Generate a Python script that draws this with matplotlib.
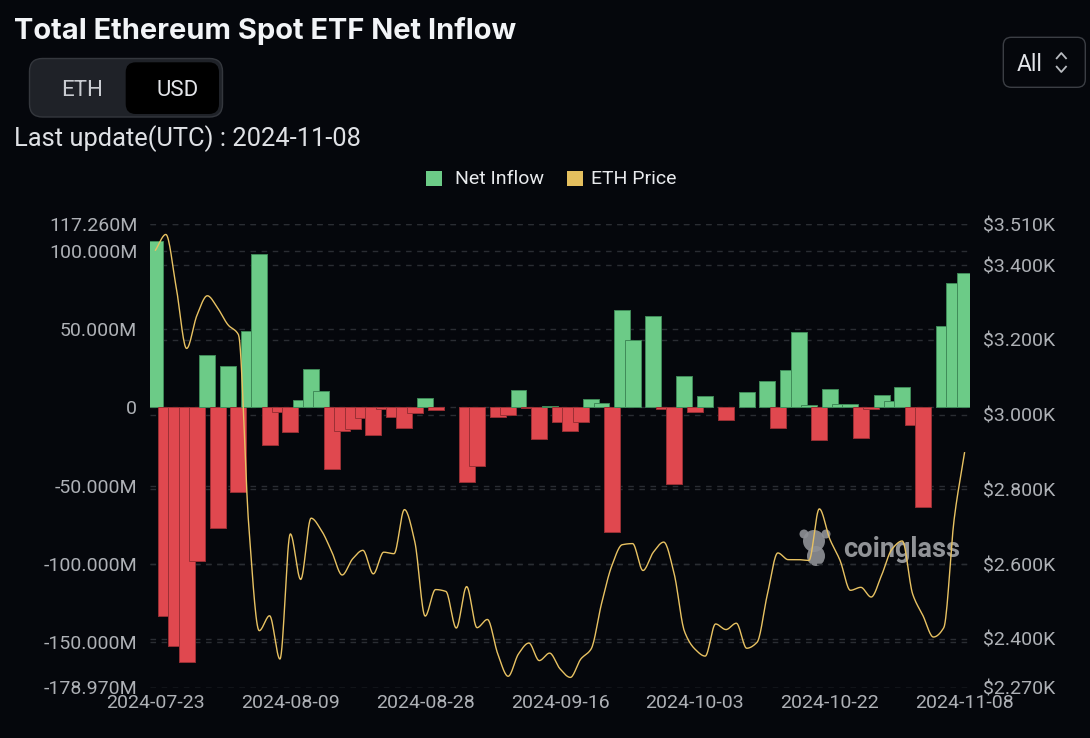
import numpy as np
import pandas as pd
import matplotlib
matplotlib.use('Agg')
import matplotlib.pyplot as plt
from matplotlib.patches import FancyBboxPatch, Rectangle, Ellipse, Circle

plt.rcParams['font.family'] = ['Roboto', 'DejaVu Sans']

# trading days 2024-07-23 .. 2024-11-08
dates = pd.bdate_range('2024-07-23', '2024-11-08').strftime('%Y-%m-%d').tolist()

# net inflow, million USD
inflow = [106.6, -133.3, -152.3, -162.7, -98.3, 33.7, -77.2, 26.7, -54.3, 48.8,
          98.4, -23.7, -3.0, -15.7, 4.9, 24.3, 10.8, -39.2, -15.1, -13.6,
          -6.5, -17.9, -0.8, -5.9, -13.3, -3.4, 5.8, -1.7, 0.0, 0.0,
          -47.4, -37.5, 0.0, -5.9, -5.1, 11.4, -0.5, -20.1, 1.2, -9.3,
          -15.1, -9.5, 5.1, 2.7, -79.3, 62.5, 43.2, 0.0, 58.7, -0.7,
          -48.6, 19.8, -3.2, 7.4, 0.0, -8.0, 0.0, 10.0, 0.0, 17.0,
          -12.9, 24.2, 48.4, 1.8, -21.0, 11.8, 2.0, 2.0, -19.3, -1.1,
          7.7, 4.4, 13.0, -10.9, -63.3, 0.0, 52.3, 79.7, 85.9]

# ETH price, USD
price = [3440, 3482, 3340, 3177, 3266, 3318, 3285, 3240, 3214, 2700,
         2422, 2462, 2346, 2681, 2559, 2723, 2690, 2633, 2571, 2614,
         2637, 2574, 2632, 2628, 2746, 2660, 2461, 2532, 2527, 2429,
         2540, 2430, 2452, 2360, 2300, 2360, 2389, 2342, 2362, 2320,
         2297, 2346, 2373, 2494, 2596, 2652, 2655, 2583, 2632, 2659,
         2575, 2420, 2373, 2354, 2440, 2425, 2442, 2375, 2391, 2520,
         2630, 2612, 2612, 2610, 2748, 2668, 2610, 2530, 2538, 2512,
         2570, 2640, 2662, 2520, 2462, 2405, 2430, 2720, 2898]

left_ticks = [117.26, 100, 50, 0, -50, -100, -150, -178.97]
left_labels = ['117.260M', '100.000M', '50.000M', '0', '-50.000M',
               '-100.000M', '-150.000M', '-178.970M']
right_ticks = [3510, 3400, 3200, 3000, 2800, 2600, 2400, 2270]
right_labels = ['$3.510K', '$3.400K', '$3.200K', '$3.000K', '$2.800K',
                '$2.600K', '$2.400K', '$2.270K']

BG = '#05070c'
GREEN = '#6ccb87'
RED = '#e0484f'
YELLOW = '#e8c262'
GRID = '#2a2d33'
LABEL = '#aeb1b6'

W, H = 1090, 738


def smooth(xs, ys, k=16):
    # monotone cubic curve through the points, for drawing only
    xs = np.asarray(xs, float)
    ys = np.asarray(ys, float)
    n = len(ys)
    d = np.diff(ys)
    m = np.zeros(n)
    for i in range(1, n - 1):
        if d[i-1] * d[i] > 0:
            m[i] = 2 * d[i-1] * d[i] / (d[i-1] + d[i])
    m[0] = d[0]
    m[-1] = d[-1]
    t = np.linspace(0, 1, k, endpoint=False)
    h00 = 2*t**3 - 3*t**2 + 1
    h10 = t**3 - 2*t**2 + t
    h01 = -2*t**3 + 3*t**2
    h11 = t**3 - t**2
    outx, outy = [], []
    for i in range(n - 1):
        outx.append(xs[i] + t*(xs[i+1] - xs[i]))
        outy.append(h00*ys[i] + h10*m[i] + h01*ys[i+1] + h11*m[i+1])
    outx.append([xs[-1]])
    outy.append([ys[-1]])
    return np.concatenate(outx), np.concatenate(outy)


fig = plt.figure(figsize=(W/100, H/100), dpi=100, facecolor=BG)

# overlay in pixel coordinates for header widgets
ov = fig.add_axes([0, 0, 1, 1])
ov.set_xlim(0, W)
ov.set_ylim(H, 0)
ov.axis('off')

ov.text(14, 39, 'Total Ethereum Spot ETF Net Inflow', color='#f2f4f7',
        fontsize=20.9, fontweight='bold', family=['Inter', 'DejaVu Sans'], va='baseline')

ov.add_patch(FancyBboxPatch((29.5, 58.5), 193, 58.5,
                            boxstyle='round,pad=0,rounding_size=13',
                            fc='#1f2228', ec='#34373d', lw=1))
ov.add_patch(FancyBboxPatch((125.7, 62.3), 93.3, 51.7,
                            boxstyle='round,pad=0,rounding_size=10',
                            fc='#000000', ec='none'))
ov.text(82, 95.5, 'ETH', color='#c9ccd1', fontsize=16, ha='center', va='baseline')
ov.text(178, 95.5, 'USD', color='#e3e5e9', fontsize=16, ha='center', va='baseline')

ov.text(14, 146.5, 'Last update(UTC) : 2024-11-08', color='#dfe1e5',
        fontsize=18.4, va='baseline')

# "All" selector
ov.add_patch(FancyBboxPatch((1003.3, 37.3), 82, 50,
                            boxstyle='round,pad=0,rounding_size=8',
                            fc='none', ec='#3b3e44', lw=1))
ov.text(1017, 70.7, 'All', color='#e3e5e9', fontsize=16.5, va='baseline')
ov.plot([1056.7, 1061.3, 1066], [58.3, 53, 58.3], color='#b8bbc0', lw=1.3)
ov.plot([1056.7, 1061.3, 1066], [66.7, 72, 66.7], color='#b8bbc0', lw=1.3)

# legend
ov.add_patch(Rectangle((426, 171), 16, 15, fc=GREEN, ec='none'))
ov.text(455, 184.3, 'Net Inflow', color='#e8eaed', fontsize=14, va='baseline')
ov.add_patch(Rectangle((566.5, 171), 16, 15, fc='#e4bf5e', ec='none'))
ov.text(591, 184.3, 'ETH Price', color='#e8eaed', fontsize=14, va='baseline')

# watermark
ov.add_patch(Circle((814, 541), 11, fc='#8f9196', ec='none', alpha=0.9))
ov.add_patch(Ellipse((816, 556), 18, 20, fc='#8f9196', ec='none', alpha=0.9))
ov.add_patch(Circle((804, 534), 4.5, fc='#8f9196', ec='none', alpha=0.9))
ov.add_patch(Circle((826, 534), 4.5, fc='#8f9196', ec='none', alpha=0.9))
ov.text(843, 556.7, 'coinglass', color='#9a9ca0', fontsize=19.5,
        fontweight='bold', va='baseline', alpha=0.95)

# main chart
x0, x1, y0, y1 = 150.3, 969.7, 224, 687.5
ax = fig.add_axes([x0/W, 1 - y1/H, (x1 - x0)/W, (y1 - y0)/H])
ax.set_facecolor('none')

n = len(inflow)
xs = np.arange(n)
lo, hi = left_ticks[-1], left_ticks[0]
plo, phi = right_ticks[-1], right_ticks[0]

for v in left_ticks:
    ax.axhline(v, color=GRID, lw=1, ls=(0, (4, 4)), zorder=0)
for p in right_ticks:
    ax.axhline(lo + (p - plo) / (phi - plo) * (hi - lo), color=GRID, lw=1,
               ls=(0, (4, 4)), zorder=0)

vals = np.array(inflow)
keep = vals != 0
cols = [GREEN if v > 0 else RED for v in vals[keep]]
edges = ['#3f8a58' if v > 0 else '#9a3035' for v in vals[keep]]
ax.bar(xs[keep], vals[keep], width=1.54, color=cols, edgecolor=edges,
       linewidth=0.7, zorder=2)

ax.set_xlim(-0.5, n - 0.5)
ax.set_ylim(lo, hi)
ax.set_yticks(left_ticks)
ax.set_yticklabels(left_labels)
ax.set_xticks(xs[::13])
ax.set_xticklabels([dates[i] for i in xs[::13]])
ax.tick_params(length=0, colors=LABEL, labelsize=14)
ax.tick_params(axis='y', pad=9.4)
ax.tick_params(axis='x', pad=5)
for s in ax.spines.values():
    s.set_visible(False)

ax2 = ax.twinx()
sx, sy = smooth(xs, price)
ax2.plot(sx, sy, color=YELLOW, lw=1.0, zorder=3)
ax2.set_ylim(plo, phi)
ax2.set_yticks(right_ticks)
ax2.set_yticklabels(right_labels)
ax2.tick_params(length=0, colors=LABEL, labelsize=14, pad=9.4)
for s in ax2.spines.values():
    s.set_visible(False)

fig.savefig('out.png', dpi=100, facecolor=BG)
